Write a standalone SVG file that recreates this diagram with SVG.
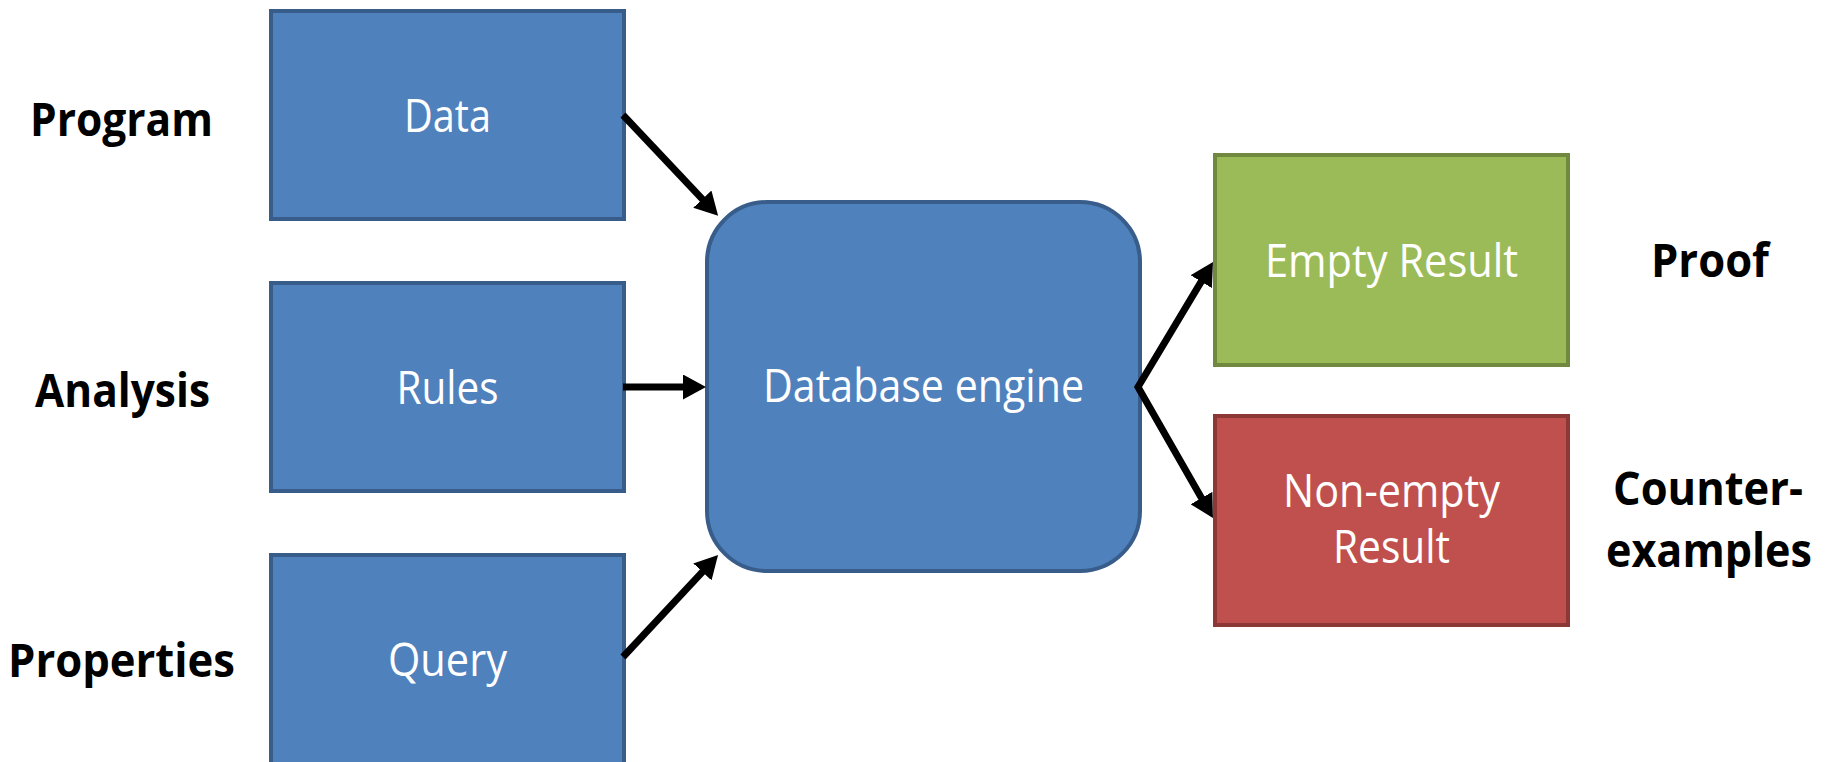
<svg xmlns="http://www.w3.org/2000/svg" width="1829" height="762" viewBox="0 0 1829 762">
  <style>
    .blue { fill: #4F81BD; stroke: #385D8A; stroke-width: 4; }
    .green { fill: #9BBB59; stroke: #71893F; stroke-width: 4; }
    .red { fill: #C0504D; stroke: #8C3836; stroke-width: 4; }
    .lbl { font-family: "Open Sans", "Liberation Sans", sans-serif; font-size: 45px; fill: #FFFFFF; text-anchor: middle; }
    .side { font-family: "Open Sans", "Liberation Sans", sans-serif; font-size: 46px; font-weight: bold; fill: #000000; text-anchor: middle; }
    .conn { fill: none; stroke: #000000; stroke-width: 7; stroke-linejoin: miter; }
  </style>
  <defs>
    <marker id="head" markerUnits="userSpaceOnUse" markerWidth="24" markerHeight="25" refX="10" refY="12.5" orient="auto-start-reverse" viewBox="0 0 24 25">
      <path d="M0,0 L23,12.5 L0,25 z" fill="#000000"/>
    </marker>
  </defs>
  <rect width="1829" height="762" fill="#FFFFFF"/>

  <!-- left-hand captions -->
  <g id="caption-program"><text class="side" x="121.5" y="136" textLength="183" lengthAdjust="spacingAndGlyphs">Program</text></g>
  <g id="caption-analysis"><text class="side" x="122.5" y="407" textLength="175" lengthAdjust="spacingAndGlyphs">Analysis</text></g>
  <g id="caption-properties"><text class="side" x="121.5" y="677" textLength="227" lengthAdjust="spacingAndGlyphs">Properties</text></g>

  <!-- inputs -->
  <g id="node-data">
    <rect class="blue" x="271" y="11" width="353" height="208"/>
    <text class="lbl" x="447.5" y="132" textLength="87" lengthAdjust="spacingAndGlyphs">Data</text>
  </g>
  <g id="node-rules">
    <rect class="blue" x="271" y="283" width="353" height="208"/>
    <text class="lbl" x="447.5" y="404" textLength="102" lengthAdjust="spacingAndGlyphs">Rules</text>
  </g>
  <g id="node-query">
    <rect class="blue" x="271" y="555" width="353" height="212"/>
    <text class="lbl" x="447.5" y="676" textLength="119" lengthAdjust="spacingAndGlyphs">Query</text>
  </g>

  <!-- engine -->
  <g id="node-engine">
    <rect class="blue" x="707" y="202" width="433" height="369" rx="60" ry="60"/>
    <text class="lbl" x="923.5" y="402" textLength="321" lengthAdjust="spacingAndGlyphs">Database engine</text>
  </g>

  <!-- outcomes -->
  <g id="node-empty">
    <rect class="green" x="1215" y="155" width="353" height="210"/>
    <text class="lbl" x="1391.5" y="277" textLength="253" lengthAdjust="spacingAndGlyphs">Empty Result</text>
  </g>
  <g id="node-nonempty">
    <rect class="red" x="1215" y="416" width="353" height="209"/>
    <text class="lbl" x="1391.5" y="507" textLength="217" lengthAdjust="spacingAndGlyphs">Non-empty</text>
    <text class="lbl" x="1391.5" y="563" textLength="117" lengthAdjust="spacingAndGlyphs">Result</text>
  </g>

  <!-- right-hand captions -->
  <g id="caption-proof"><text class="side" x="1710" y="277" textLength="118" lengthAdjust="spacingAndGlyphs">Proof</text></g>
  <g id="caption-counter">
    <text class="side" x="1708" y="505" textLength="190" lengthAdjust="spacingAndGlyphs">Counter-</text>
    <text class="side" x="1709" y="567" textLength="206" lengthAdjust="spacingAndGlyphs">examples</text>
  </g>

  <!-- connectors -->
  <g id="connectors">
    <line class="conn" x1="623" y1="115" x2="709.2" y2="206.4" marker-end="url(#head)"/>
    <line class="conn" x1="623" y1="387" x2="693" y2="387" marker-end="url(#head)"/>
    <line class="conn" x1="623" y1="657" x2="709.2" y2="564.6" marker-end="url(#head)"/>
    <path class="conn" d="M1206.3,273.1 L1138,387 L1206.5,506.7" marker-start="url(#head)" marker-end="url(#head)"/>
  </g>
</svg>
